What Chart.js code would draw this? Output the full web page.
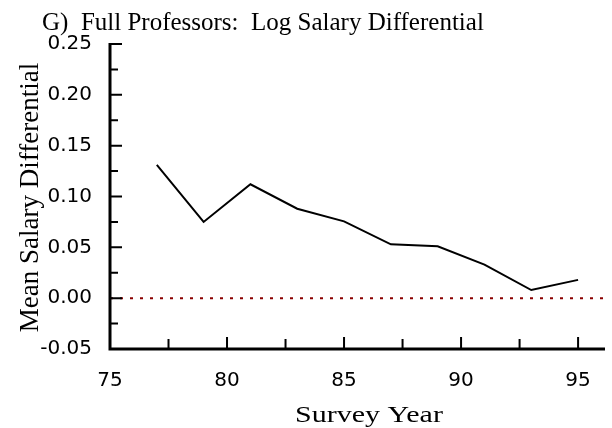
<!DOCTYPE html>
<html><head><meta charset="utf-8">
<script src="https://cdn.jsdelivr.net/npm/chart.js@4/dist/chart.umd.min.js"></script>
<style>html,body{margin:0;padding:0;background:#fff}#wrap{width:612px;height:428px}</style>
</head><body><div id="wrap"><canvas id="c" width="612" height="428"></canvas></div>
<script>
const years = [77, 79, 81, 83, 85, 87, 89, 91, 93, 95];
const differential = [0.131, 0.075, 0.112, 0.088, 0.0755, 0.053, 0.051, 0.033, 0.008, 0.018];
const xTicks = [75, 80, 85, 90, 95];
const yTicks = [-0.05, 0.00, 0.05, 0.10, 0.15, 0.20, 0.25];
const zeroLine = 0;
const chartTitle = 'G)  Full Professors:  Log Salary Differential';
const xTitle = 'Survey Year';
const yTitle = 'Mean Salary Differential';

const mids = a => a.slice(0, -1).map((v, i) => (v + a[i + 1]) / 2);

const axesPlugin = {
  id: 'axesPlugin',
  afterDatasetsDraw(chart) {
    const ctx = chart.ctx, xs = chart.scales.x, ys = chart.scales.y, ca = chart.chartArea;
    ctx.save();
    // zero reference line
    const y0 = ys.getPixelForValue(zeroLine);
    ctx.strokeStyle = '#8b0000';
    ctx.lineWidth = 2;
    ctx.setLineDash([3, 7]);
    ctx.beginPath(); ctx.moveTo(ca.left, y0); ctx.lineTo(ca.right, y0); ctx.stroke();
    ctx.setLineDash([]);
    // axes
    ctx.strokeStyle = '#000';
    ctx.lineWidth = 3;
    ctx.beginPath();
    ctx.moveTo(ca.left, ca.top - 1);
    ctx.lineTo(ca.left, ca.bottom);
    ctx.lineTo(ca.right, ca.bottom);
    ctx.stroke();
    ctx.lineWidth = 2;
    ctx.beginPath();
    yTicks.forEach(v => { const p = ys.getPixelForValue(v); ctx.moveTo(ca.left, p); ctx.lineTo(ca.left + 12, p); });
    mids(yTicks).forEach(v => { const p = ys.getPixelForValue(v); ctx.moveTo(ca.left, p); ctx.lineTo(ca.left + 8, p); });
    xTicks.forEach(v => { const p = xs.getPixelForValue(v); ctx.moveTo(p, ca.bottom); ctx.lineTo(p, ca.bottom - 12); });
    mids(xTicks).forEach(v => { const p = xs.getPixelForValue(v); ctx.moveTo(p, ca.bottom); ctx.lineTo(p, ca.bottom - 10); });
    ctx.stroke();
    // chart title
    ctx.fillStyle = '#000';
    ctx.font = '25px "Liberation Serif"';
    ctx.textBaseline = 'alphabetic';
    ctx.textAlign = 'left';
    ctx.fillText(chartTitle, 42, 30);
    // x axis title (slightly widened glyphs like the reference)
    ctx.save();
    ctx.font = '24px "Liberation Serif"';
    ctx.textAlign = 'center';
    ctx.translate(369, 422);
    ctx.scale(1.25, 1);
    ctx.fillText(xTitle, 0, 0);
    ctx.restore();
    // y axis title
    ctx.font = '27px "Liberation Serif"';
    ctx.textAlign = 'center';
    ctx.translate(38, (ca.top + ca.bottom) / 2 + 1);
    ctx.rotate(-Math.PI / 2);
    ctx.fillText(yTitle, 0, 0);
    ctx.restore();
  }
};

new Chart(document.getElementById('c'), {
  type: 'line',
  data: {
    datasets: [{
      data: years.map((x, i) => ({ x, y: differential[i] })),
      borderColor: '#000',
      borderWidth: 2,
      pointRadius: 0,
      tension: 0,
      fill: false
    }]
  },
  options: {
    responsive: false,
    animation: false,
    devicePixelRatio: 1,
    layout: { padding: { top: 44, right: 7, left: 0, bottom: 0 } },
    plugins: { legend: { display: false }, title: { display: false }, tooltip: { enabled: false } },
    scales: {
      x: {
        type: 'linear', min: 75, max: 96.15,
        afterBuildTicks: s => { s.ticks = xTicks.map(v => ({ value: v })); },
        afterFit: s => { s.height = 79; },
        grid: { display: false, drawTicks: false, tickLength: 0 },
        border: { display: false },
        ticks: { color: '#000', font: { family: 'DejaVu Sans', size: 20 }, padding: 20, maxRotation: 0, autoSkip: false },
        title: { display: false }
      },
      y: {
        type: 'linear', min: -0.05, max: 0.25,
        afterBuildTicks: s => { s.ticks = yTicks.map(v => ({ value: v })); },
        afterFit: s => { s.width = 110; },
        grid: { display: false, drawTicks: false, tickLength: 0 },
        border: { display: false },
        ticks: { color: '#000', font: { family: 'DejaVu Sans', size: 20 }, padding: 18, callback: v => v.toFixed(2), autoSkip: false },
        title: { display: false }
      }
    }
  },
  plugins: [axesPlugin]
});
</script>
</body></html>
